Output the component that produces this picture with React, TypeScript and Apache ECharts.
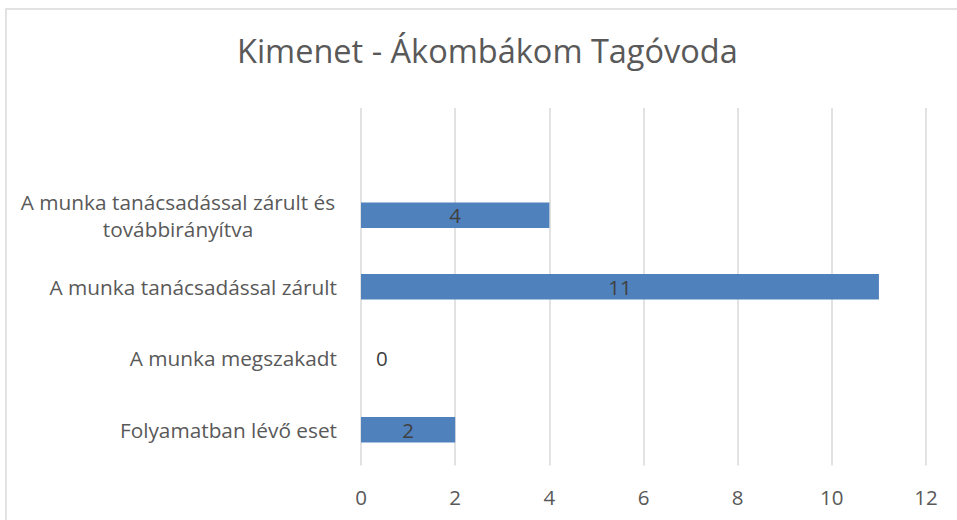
import React, { useEffect, useRef } from "react";
import * as echarts from "echarts";

const TITLE = "Kimenet - Ákombákom Tagóvoda";
// bottom to top; the last, empty category reproduces the blank band at the top
const CATEGORIES = [
  "Folyamatban lévő eset",
  "A munka megszakadt",
  "A munka tanácsadással zárult",
  "A munka tanácsadással zárult és\ntovábbirányítva",
  "",
];
const VALUES: (number | null)[] = [2, 0, 11, 4, null];
const X_MIN = 0;
const X_MAX = 12;
const X_INTERVAL = 2;

const FONT = "'Open Sans', 'Noto Sans', sans-serif";

export default function App() {
  const ref = useRef<HTMLDivElement>(null);
  useEffect(() => {
    if (!ref.current) return;
    const chart = echarts.init(ref.current, undefined, { renderer: "svg" });
    chart.setOption({
      animation: false,
      backgroundColor: "#ffffff",
      title: {
        text: TITLE,
        left: 237,
        top: 34,
        padding: 0,
        textStyle: {
          fontFamily: FONT,
          fontSize: 32.5,
          fontWeight: "normal",
          color: "#595959",
        },
      },
      graphic: [
        {
          type: "rect",
          shape: { x: 6, y: 9, width: 1000, height: 600 },
          style: { fill: "none", stroke: "#d9d9d9", lineWidth: 1.5 },
          silent: true,
        },
      ],
      grid: { left: 361, right: 31, top: 108, bottom: 54.5, containLabel: false },
      xAxis: {
        type: "value",
        min: X_MIN,
        max: X_MAX,
        interval: X_INTERVAL,
        axisLine: { show: false },
        axisTick: { show: false },
        splitLine: { show: true, lineStyle: { color: "#d9d9d9", width: 1.5 } },
        axisLabel: {
          margin: 21,
          fontFamily: FONT,
          fontSize: 20.5,
          color: "#595959",
        },
      },
      yAxis: {
        type: "category",
        data: CATEGORIES,
        axisLine: { show: false },
        axisTick: { show: false },
        splitLine: { show: false },
        axisLabel: {
          margin: 24,
          fontFamily: FONT,
          fontSize: 20.8,
          color: "#595959",
          lineHeight: 27,
          formatter: (v: string) =>
            v.includes("\n")
              ? v
                  .split("\n")
                  .map((l) => `{c|${l}}`)
                  .join("\n")
              : v,
          rich: {
            c: {
              width: 318,
              align: "center",
              fontFamily: FONT,
              fontSize: 20.8,
              color: "#595959",
              lineHeight: 27,
            },
          },
        },
      },
      series: [
        {
          type: "bar",
          barWidth: 25.5,
          data: VALUES.map((v) =>
            v === 0
              ? { value: v, label: { position: "right", distance: 15 } }
              : v
          ),
          itemStyle: { color: "#4f81bd" },
          label: {
            show: true,
            position: "inside",
            fontFamily: FONT,
            fontSize: 20.5,
            color: "#404040",
            formatter: (p: any) => (p.value == null ? "" : String(p.value)),
          },
        },
      ],
    });
    return () => chart.dispose();
  }, []);
  return (
    <div
      ref={ref}
      style={{ position: "absolute", left: 0, top: 0, width: 957, height: 520 }}
    />
  );
}
